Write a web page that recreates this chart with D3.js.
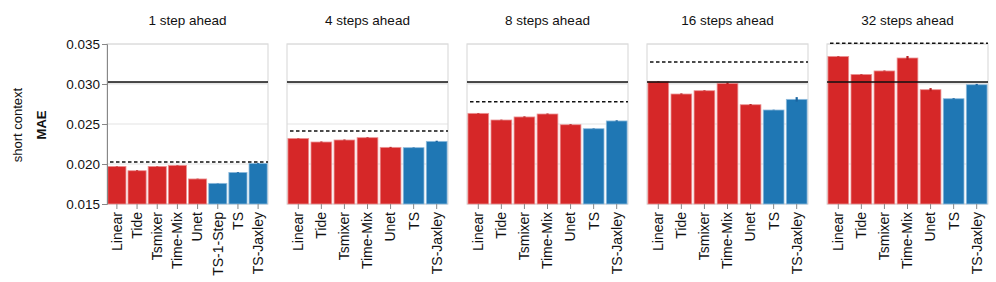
<!DOCTYPE html>
<html>
<head>
<meta charset="utf-8">
<script src="https://cdn.jsdelivr.net/npm/d3@7"></script>
<style>
  body { margin: 0; background: #fff; }
  svg { display: block; font-family: "Liberation Sans", Arial, sans-serif; }
</style>
</head>
<body>
<svg width="996" height="282"></svg>
<script>
// horizons shown, one panel each
var titles = ["1 step ahead", "4 steps ahead", "8 steps ahead", "16 steps ahead", "32 steps ahead"];

var models1 = ["Linear", "Tide", "Tsmixer", "Time-Mix", "Unet", "TS-1-Step", "TS", "TS-Jaxley"];
var models = ["Linear", "Tide", "Tsmixer", "Time-Mix", "Unet", "TS", "TS-Jaxley"];

var mae1 = [0.0197, 0.01916, 0.0197, 0.01983, 0.01813, 0.01758, 0.01895, 0.02008];
var err1 = [0.00003, 0.00005, 0.00003, 0.00003, 0.00003, 0.00002, 0.00005, 0.00005];
var mae4 = [0.0232, 0.02275, 0.0230, 0.02329, 0.02208, 0.02204, 0.02283];
var err4 = [0.00003, 0.00006, 0.00006, 0.00004, 0.00006, 0.00003, 0.00008];
var mae8 = [0.02633, 0.0255, 0.02588, 0.02625, 0.02491, 0.02441, 0.02538];
var err8 = [0.00004, 0.00004, 0.00007, 0.00006, 0.00006, 0.00003, 0.00008];
var mae16 = [0.03033, 0.02875, 0.02916, 0.03008, 0.02741, 0.02675, 0.02808];
var err16 = [0.00004, 0.00007, 0.00004, 0.0001, 0.00008, 0.00003, 0.00028];
var mae32 = [0.03345, 0.0312, 0.03163, 0.03325, 0.02929, 0.02816, 0.02991];
var err32 = [0.00004, 0.00004, 0.00005, 0.00025, 0.0002, 0.00006, 0.0001];

// reference lines
var baseline = 0.03025;
var baselineLow = 0.0300;
var dashed = [0.02025, 0.02413, 0.02779, 0.03275, 0.0351];

var yTicks = [0.015, 0.020, 0.025, 0.030, 0.035];

var red = "#d62728", blue = "#1f77b4";

var panels = [
  {title: titles[0], cats: models1, vals: mae1, errs: err1, dash: dashed[0]},
  {title: titles[1], cats: models, vals: mae4, errs: err4, dash: dashed[1]},
  {title: titles[2], cats: models, vals: mae8, errs: err8, dash: dashed[2]},
  {title: titles[3], cats: models, vals: mae16, errs: err16, dash: dashed[3]},
  {title: titles[4], cats: models, vals: mae32, errs: err32, dash: dashed[4]}
];

var svg = d3.select("svg");
var plotTop = 44, plotBottom = 204;

var px = d3.scaleBand().domain(d3.range(panels.length)).range([107, 988]).paddingInner(19 / 180);
var y = d3.scaleLinear().domain([0.015, 0.035]).range([plotBottom, plotTop]);

function isTS(m) { return m.indexOf("TS") === 0; }

panels.forEach(function(p, pi) {
  var w = px.bandwidth();
  var g = svg.append("g").attr("transform", "translate(" + px(pi) + ",0)");
  var x = d3.scaleBand().domain(p.cats).range([0, w]).paddingInner(0.1).paddingOuter(0.04);

  // grid
  g.selectAll(".grid").data(yTicks).enter().append("line")
    .attr("x1", 0).attr("x2", w)
    .attr("y1", function(d) { return y(d); }).attr("y2", function(d) { return y(d); })
    .attr("stroke", "#e3e3e3").attr("stroke-width", 1);

  // frame
  g.append("rect").attr("x", 0).attr("y", plotTop).attr("width", w).attr("height", plotBottom - plotTop)
    .attr("fill", "none").attr("stroke", "#dcdcdc").attr("stroke-width", 1.2);

  // baseline band
  g.append("rect").attr("x", 0).attr("width", w)
    .attr("y", y(baseline)).attr("height", y(baselineLow) - y(baseline))
    .attr("fill", "#e6e6e6");

  var data = p.cats.map(function(c, i) { return {m: c, v: p.vals[i], e: p.errs[i]}; });

  g.selectAll(".bar").data(data).enter().append("rect")
    .attr("x", function(d) { return x(d.m); })
    .attr("y", function(d) { return y(d.v); })
    .attr("width", x.bandwidth())
    .attr("height", function(d) { return plotBottom - y(d.v); })
    .attr("fill", function(d) { return isTS(d.m) ? blue : red; })
    .attr("stroke", function(d) { return isTS(d.m) ? "#8fbbdc" : "#eb9394"; })
    .attr("stroke-width", 0.8);

  g.selectAll(".err").data(data).enter().append("line")
    .attr("x1", function(d) { return x(d.m) + x.bandwidth() / 2; })
    .attr("x2", function(d) { return x(d.m) + x.bandwidth() / 2; })
    .attr("y1", function(d) { return y(d.v - d.e); })
    .attr("y2", function(d) { return y(d.v + d.e); })
    .attr("stroke", function(d) { return isTS(d.m) ? "#1a64a0" : "#b81f20"; })
    .attr("stroke-width", 2.2);

  // reference lines
  g.append("line").attr("x1", 0).attr("x2", w)
    .attr("y1", y(baseline)).attr("y2", y(baseline))
    .attr("stroke", "#111").attr("stroke-width", 1.5);
  g.append("line").attr("x1", 3).attr("x2", w)
    .attr("y1", y(p.dash)).attr("y2", y(p.dash))
    .attr("stroke", "#111").attr("stroke-width", 1.5).attr("stroke-dasharray", "3.5,2.5");

  // x axis
  var xa = g.append("g").attr("transform", "translate(0," + plotBottom + ")")
    .call(d3.axisBottom(x).tickSize(5).tickSizeOuter(0));
  xa.select(".domain").remove();
  xa.selectAll(".tick line").attr("stroke", "#888");
  xa.selectAll(".tick text")
    .attr("transform", "rotate(-90)")
    .attr("x", -8).attr("y", 0).attr("dy", "0.35em")
    .style("text-anchor", "end")
    .style("font-size", "14px")
    .style("font-family", "Liberation Sans, Arial, sans-serif")
    .attr("fill", "#111");

  g.append("text").attr("x", w / 2).attr("y", 25).attr("text-anchor", "middle")
    .style("font-size", "13.5px").attr("fill", "#111").text(p.title);

  if (pi === 0) {
    var ya = g.append("g").call(d3.axisLeft(y).tickValues(yTicks).tickFormat(d3.format(".3f")).tickSize(5));
    ya.select(".domain").attr("stroke", "#888");
    ya.selectAll(".tick line").attr("stroke", "#888");
    ya.selectAll(".tick text").style("font-size", "13.5px")
      .style("font-family", "Liberation Sans, Arial, sans-serif").attr("fill", "#111").attr("x", -7);
  }
});

svg.append("text").attr("transform", "translate(22,125) rotate(-90)")
  .attr("text-anchor", "middle").style("font-size", "13px").attr("fill", "#111").text("short context");
svg.append("text").attr("transform", "translate(46,125) rotate(-90)")
  .attr("text-anchor", "middle").style("font-size", "13px").style("font-weight", "bold").attr("fill", "#111").text("MAE");
</script>
</body>
</html>
